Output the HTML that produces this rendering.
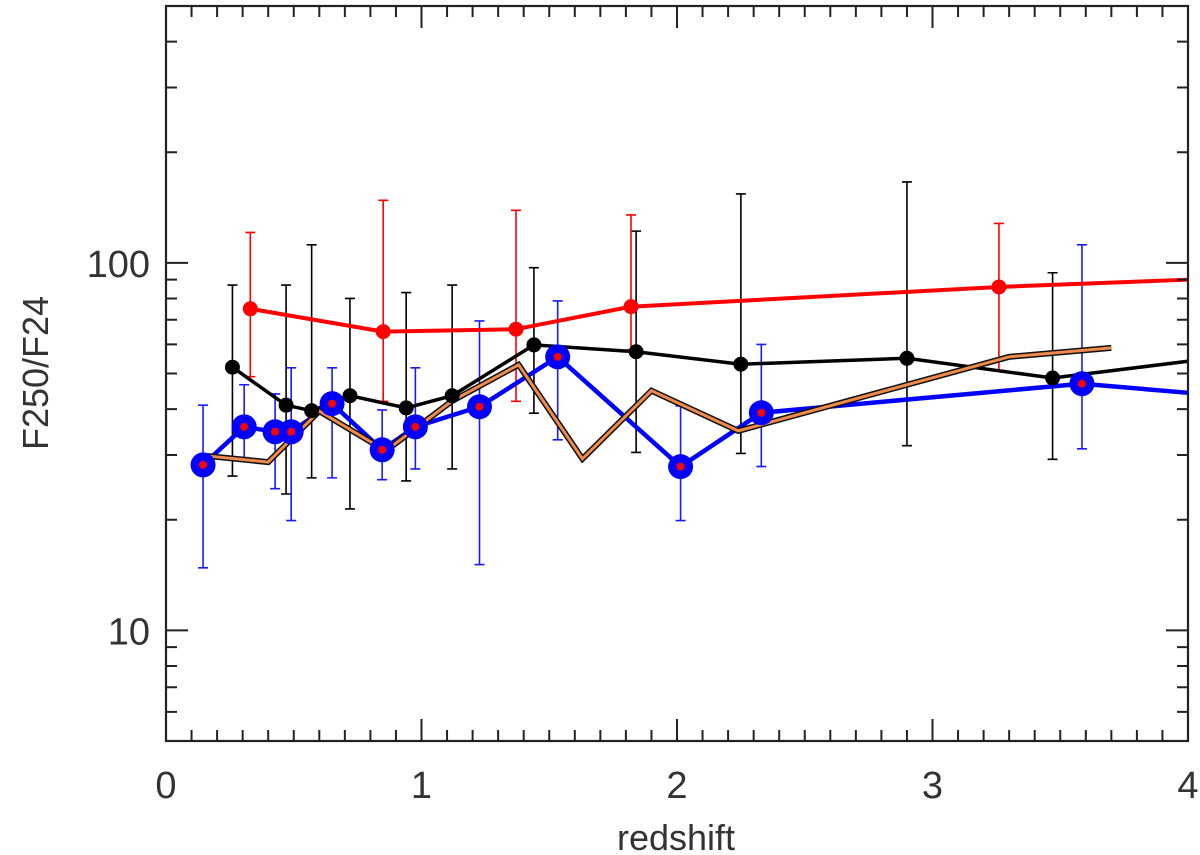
<!DOCTYPE html>
<html><head><meta charset="utf-8"><style>
html,body{margin:0;padding:0;background:#fff;}
svg{display:block;font-family:"Liberation Sans",sans-serif;}
text{fill:#333;}
</style></head><body>
<svg id="chart" width="1200" height="855" viewBox="0 0 1200 855" xmlns="http://www.w3.org/2000/svg">
<g id="marks"></g>
<g id="axes"></g>
</svg>
<script>
// ---- data ----
const xTicks = [0,1,2,3,4];
const yTicks = [10,100];
const xAxisTitle = "redshift";
const yAxisTitle = "F250/F24";

const redX = [0.33,0.85,1.37,1.82,3.26,4.0];
const redY = [75,65,66,76,86,90];
const redHi = [121,148,139,135,128,null];
const redLo = [49,42,42,58,51,null];

const blackX = [0.26,0.47,0.57,0.72,0.94,1.12,1.44,1.84,2.25,2.90,3.47,4.0];
const blackY = [52,41,39.6,43.5,40.3,43.5,59.8,57.3,53,55,48.6,54];
const blackHi = [87,87,112,80,83,87,97,122,154,166,94,null];
const blackLo = [26.3,23.5,26,21.4,25.5,27.5,39,30.5,30.3,31.8,29.2,null];

const blueX = [0.145,0.306,0.427,0.49,0.65,0.846,0.976,1.227,1.533,2.014,2.33,3.585,4.0];
const blueY = [28.2,35.8,34.7,34.7,41.4,31.0,35.8,40.6,55.5,27.9,39.1,46.9,44.3];
const blueHi = [41,46.6,44,51.8,51.8,39.8,51.8,69.5,78.8,40.8,60,112,null];
const blueLo = [14.8,29.5,24.3,19.9,26,25.7,27.5,15.1,33,19.9,27.9,31.2,null];

const orangeX = [0.145,0.40,0.60,0.86,1.12,1.38,1.63,1.9,2.24,3.30,3.70];
const orangeY = [29.9,28.7,39.5,30.8,42.1,52.8,29.3,44.9,34.9,55.5,58.7];

// ---- axes functions ----
const X0=166, X1=1188, Y0=6, Y1=741;
const xMin=0, xMax=4, yMin=5, yMax=500;
function sx(v){return X0+(v-xMin)/(xMax-xMin)*(X1-X0);}
function sy(v){const l=Math.log10(v);return Y1-(l-Math.log10(yMin))/(Math.log10(yMax)-Math.log10(yMin))*(Y1-Y0);}

const NS="http://www.w3.org/2000/svg";
const marks=document.getElementById('marks');
const axes=document.getElementById('axes');
function mk(tag,attrs,parent){const e=document.createElementNS(NS,tag);for(const k in attrs)e.setAttribute(k,attrs[k]);parent.appendChild(e);return e;}

function errorBars(xs,hi,lo,color,w,name,g){
  xs.forEach((x,i)=>{
    if(hi[i]==null)return;
    const px=sx(x),t=sy(hi[i]),b=sy(lo[i]);
    const p=mk('path',{d:`M${px},${t}V${b}M${px-5},${t}H${px+5}M${px-5},${b}H${px+5}`,stroke:color,'stroke-width':w,fill:'none'},g);
    
    
  });
}
function line(xs,ys,color,w,name,g){
  const d=xs.map((x,i)=>(i?'L':'M')+sx(x)+','+sy(ys[i])).join('');
  const p=mk('path',{d:d,stroke:color,'stroke-width':w,fill:'none','stroke-linejoin':'miter'},g);
  
  
  return p;
}
function points(xs,ys,r,color,name,g,skipLast){
  xs.forEach((x,i)=>{
    if(skipLast && i===xs.length-1)return;
    const c=mk('circle',{cx:sx(x),cy:sy(ys[i]),r:r,fill:color},g);
    
    
  });
}

errorBars(blackX,blackHi,blackLo,'#000',1.6,'black-series',marks);
errorBars(redX,redHi,redLo,'#f00',1.6,'red-series',marks);
errorBars(blueX,blueHi,blueLo,'#1a1aff',1.6,'blue-series',marks);
line(redX,redY,'#f00',4,'red-series-line',marks);
line(blackX,blackY,'#000',3.5,'black-series-line',marks);
line(blueX,blueY,'#0000ff',4.5,'blue-series-line',marks);
line(orangeX,orangeY,'#111',6,'orange-series-outline',marks);
line(orangeX,orangeY,'#f08a4b',3,'orange-series-line',marks);
points(redX,redY,7.5,'#f00','red-series',marks,true);
points(blackX,blackY,7.5,'#000','black-series',marks,true);
points(blueX,blueY,12.5,'#0000ff','blue-series',marks,true);
points(blueX,blueY,4,'#f00','blue-series-center',marks,true);

const fr=mk('rect',{x:X0,y:Y0,width:X1-X0,height:Y1-Y0,fill:'none',stroke:'#222','stroke-width':2.2},axes);


let d='';
for(let i=0;i<=40;i++){const v=i/10;const px=sx(v);const L=(i%10===0)?22:11;d+=`M${px},${Y1}V${Y1-L}M${px},${Y0}V${Y0+L}`;}
const yMinor=[5,6,7,8,9,20,30,40,50,60,70,80,90,200,300,400];
yMinor.forEach(v=>{const py=sy(v);d+=`M${X0},${py}H${X0+11}M${X1},${py}H${X1-11}`;});
yTicks.forEach(v=>{const py=sy(v);d+=`M${X0},${py}H${X0+22}M${X1},${py}H${X1-22}`;});
const tp=mk('path',{d:d,stroke:'#222','stroke-width':2,fill:'none'},axes);



xTicks.forEach(v=>{
  const t=mk('text',{x:sx(v),y:798,'text-anchor':'middle','font-size':38},axes);
  t.textContent=String(v);
  
  
});
yTicks.forEach(v=>{
  const t=mk('text',{x:150,y:sy(v)+14,'text-anchor':'end','font-size':38},axes);
  t.textContent=String(v);
  
  
});
const xt=mk('text',{x:676,y:850,'text-anchor':'middle','font-size':36},axes);
xt.textContent=xAxisTitle;


const yt=mk('text',{x:0,y:0,'text-anchor':'middle','font-size':36,transform:'translate(48,373) rotate(-90)'},axes);
yt.textContent=yAxisTitle;


</script>
</body></html>
